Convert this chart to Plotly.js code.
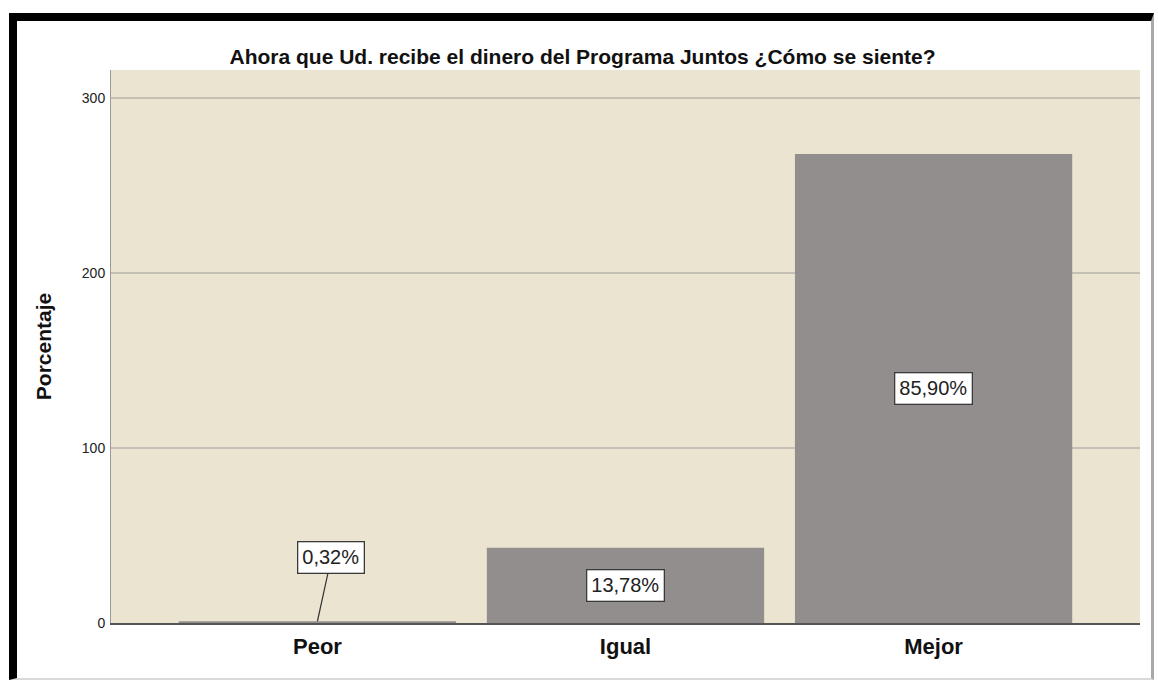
<!DOCTYPE html>
<html>
<head>
<meta charset="utf-8">
<script src="https://cdn.plot.ly/plotly-3.0.1.min.js"></script>
<style>
  html, body { margin: 0; padding: 0; background: #ffffff; }
  #wrap { position: absolute; left: 0; top: 0; width: 1158px; height: 680px; overflow: hidden; }
  #frame { position: absolute; left: 9px; top: 13px; width: 1134px; height: 657px;
           border-left: 8px solid #000; border-top: 8px solid #000;
           border-right: 3px solid #a9a9a9; border-bottom: 2px solid #d9d9d9; pointer-events: none; z-index: 5; }
  #chart { position: absolute; left: 0; top: 0; width: 1158px; height: 680px; }
</style>
</head>
<body>
<div id="wrap">
  <div id="chart"></div>
  <div id="frame"></div>
</div>
<script>
const categories = ["Peor", "Igual", "Mejor"];
const counts = [1, 43, 268];
const yTicks = [0, 100, 200, 300];

const total = counts.reduce((a, b) => a + b, 0);
const pctText = counts.map(v => (v / total * 100).toFixed(2).replace(".", ",") + "%");

const barColor = "#928e8d";
const FONT = "Liberation Sans, Arial, sans-serif";

const trace = {
  type: "bar",
  x: categories,
  y: counts,
  marker: { color: barColor, line: { width: 0 } },
  hoverinfo: "none"
};

const annotations = categories.map((c, i) => {
  const small = counts[i] < 10;
  return {
    x: c,
    y: small ? counts[i] : counts[i] / 2,
    xref: "x", yref: "y",
    text: pctText[i],
    showarrow: small,
    arrowhead: 0,
    arrowwidth: 1.2,
    arrowcolor: "#333333",
    ax: small ? 14 : 0,
    ay: small ? -64 : 0,
    bgcolor: "#ffffff",
    bordercolor: "#3a3a3a",
    borderwidth: 1.3,
    borderpad: 4,
    font: { family: FONT, size: 20, color: "#222222" }
  };
});

const layout = {
  width: 1158,
  height: 680,
  paper_bgcolor: "#ffffff",
  plot_bgcolor: "#ebe4d0",
  margin: { l: 111, r: 18, t: 70, b: 57 },
  bargap: 0.1,
  showlegend: false,
  title: {
    text: "Ahora que Ud. recibe el dinero del Programa Juntos ¿Cómo se siente?",
    x: (228 + 937) / 2 / 1158, xanchor: "center",
    y: 1 - 57 / 680, yanchor: "middle",
    font: { family: FONT, size: 21, color: "#111111", weight: "bold" }
  },
  xaxis: {
    type: "category",
    range: [-0.67, 2.67],
    showgrid: false,
    showline: true,
    linecolor: "#555555",
    linewidth: 1.5,
    ticks: "",
    zeroline: false,
    tickfont: { family: FONT, size: 22, color: "#111111", weight: "bold" },
    ticklabelstandoff: 3
  },
  yaxis: {
    range: [0, 316],
    tickvals: yTicks,
    ticktext: yTicks.map(String),
    showgrid: true,
    gridcolor: "#c4c0b6",
    gridwidth: 1.5,
    zeroline: false,
    showline: true,
    linecolor: "#9a9a9a",
    linewidth: 1,
    ticks: "",
    tickfont: { family: FONT, size: 14, color: "#222222" },
    ticklabelstandoff: 2,
    title: {
      text: "Porcentaje",
      font: { family: FONT, size: 21, color: "#111111", weight: "bold" },
      standoff: 24
    }
  },
  annotations: annotations
};

Plotly.newPlot("chart", [trace], layout, { displayModeBar: false, staticPlot: true });
</script>
</body>
</html>
